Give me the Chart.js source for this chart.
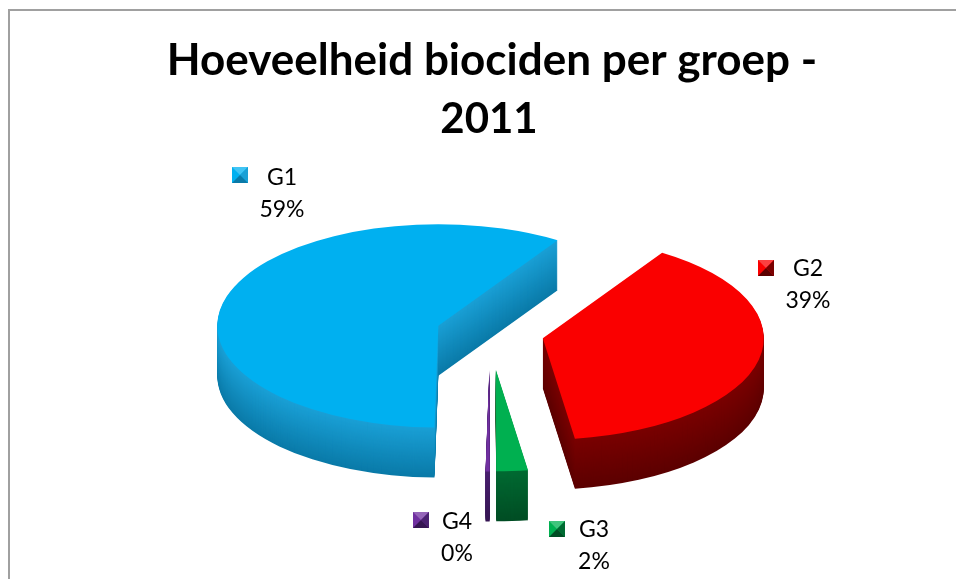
<!DOCTYPE html>
<html>
<head>
<meta charset="utf-8">
<script src="https://cdn.jsdelivr.net/npm/chart.js@4.4.0/dist/chart.umd.min.js"></script>
<style>
  html, body { margin: 0; padding: 0; background: #fff; }
  #wrap { width: 956px; height: 579px; position: relative; overflow: hidden; }
</style>
</head>
<body>
<div id="wrap"><canvas id="myChart" width="956" height="579"></canvas></div>
<script>
// data
var groepen = ['G1', 'G2', 'G3', 'G4'];
var aandeel = [58.8, 38.6, 2.3, 0.3];
var titel = ['Hoeveelheid biociden per groep -', '2011'];

// colours
var topKleur = ['#00b0f0', '#fa0000', '#00b050', '#7030a0'];
var zijKleurBoven = ['#1aa0d6', '#7a0000', '#006a32', '#4a2070'];
var zijKleurOnder = ['#0a7aa8', '#5c0000', '#004d24', '#351552'];

// 3d layout
var CX = 490, CY = 333;   // centre of the (unexploded) ellipse
var RADIUS = 221;         // horizontal radius in px
var TILT = 0.46;          // vertical squash
var DEPTH = 50;           // thickness of the pie
var explode = [54, 54, 80, 80];

// label spots: text centre x, baseline of first line, marker left/top
var labelPos = [
    {x: 282, y: 185, mx: 232, my: 167},
    {x: 808, y: 276, mx: 758, my: 260},
    {x: 594, y: 537, mx: 549, my: 521},
    {x: 457, y: 529, mx: 413, my: 512}
];

function mix(a, b, t) {
    var pa = parseInt(a.slice(1), 16), pb = parseInt(b.slice(1), 16);
    var r = Math.round(((pa >> 16) & 255) * (1 - t) + ((pb >> 16) & 255) * t);
    var g = Math.round(((pa >> 8) & 255) * (1 - t) + ((pb >> 8) & 255) * t);
    var bl = Math.round((pa & 255) * (1 - t) + (pb & 255) * t);
    return 'rgb(' + r + ',' + g + ',' + bl + ')';
}

// draws the pie squashed and exploded, with extruded sides
var pie3d = {
    id: 'pie3d',
    beforeDatasetsDraw: function(chart) {
        var ctx = chart.ctx;
        var arcs = chart.getDatasetMeta(0).data;
        var s = RADIUS / arcs[0].outerRadius;

        function place(arc, i, dy) {
            var mid = (arc.startAngle + arc.endAngle) / 2;
            var e = explode[i];
            ctx.translate(CX + Math.cos(mid) * e, CY + Math.sin(mid) * e * TILT + dy);
            ctx.scale(s, s * TILT);
            ctx.translate(-arc.x, -arc.y);
        }
        function drawWith(arc, colour) {
            var o = Object.create(arc.options);
            Object.defineProperty(o, 'backgroundColor', {value: colour});
            Object.defineProperty(o, 'borderWidth', {value: 0});
            Object.defineProperty(o, 'offset', {value: 0});
            var el = Object.create(arc);
            Object.defineProperty(el, 'options', {value: o, writable: true});
            arc.draw.call(el, ctx);
        }

        // sides first
        arcs.forEach(function(arc, i) {
            for (var d = DEPTH; d > 0; d--) {
                ctx.save();
                place(arc, i, d);
                drawWith(arc, mix(zijKleurBoven[i], zijKleurOnder[i], d / DEPTH));
                ctx.restore();
            }
        });
        // then the top faces
        arcs.forEach(function(arc, i) {
            ctx.save();
            place(arc, i, 0);
            drawWith(arc, topKleur[i]);
            ctx.restore();
        });
        return false;
    },
    afterDraw: function(chart) {
        var ctx = chart.ctx;
        var total = aandeel.reduce(function(a, b) { return a + b; }, 0);

        // frame
        ctx.save();
        ctx.strokeStyle = '#a0a0a0';
        ctx.lineWidth = 2;
        ctx.strokeRect(9, 10, 1000, 1000);

        // title
        ctx.fillStyle = '#000';
        ctx.textAlign = 'center';
        ctx.textBaseline = 'alphabetic';
        ctx.font = 'bold 44px Lato';
        ctx.fillText(titel[0], 492, 75);
        ctx.font = 'bold 42px Lato';
        ctx.fillText(titel[1], 489, 133);

        // labels
        ctx.font = '23px Lato';
        groepen.forEach(function(g, i) {
            var p = labelPos[i];
            var pct = Math.round(aandeel[i] / total * 100) + '%';
            ctx.fillStyle = '#000';
            ctx.fillText(g, p.x, p.y);
            ctx.fillText(pct, p.x, p.y + 32);

            // bevelled marker
            var x = p.mx, y = p.my, w = 16;
            var cxm = x + w / 2, cym = y + w / 2;
            ctx.fillStyle = topKleur[i];
            ctx.fillRect(x, y, w, w);
            ctx.fillStyle = mix(topKleur[i], '#ffffff', 0.25);
            ctx.beginPath(); ctx.moveTo(x, y); ctx.lineTo(x + w, y); ctx.lineTo(cxm, cym); ctx.closePath(); ctx.fill();
            ctx.fillStyle = zijKleurBoven[i];
            ctx.beginPath(); ctx.moveTo(x + w, y); ctx.lineTo(x + w, y + w); ctx.lineTo(cxm, cym); ctx.closePath(); ctx.fill();
            ctx.fillStyle = zijKleurOnder[i];
            ctx.beginPath(); ctx.moveTo(x, y + w); ctx.lineTo(x + w, y + w); ctx.lineTo(cxm, cym); ctx.closePath(); ctx.fill();
        });
        ctx.restore();
    }
};

var myChart = new Chart(document.getElementById('myChart').getContext('2d'), {
    type: 'pie',
    data: {
        labels: groepen,
        datasets: [{
            data: aandeel,
            backgroundColor: topKleur,
            borderWidth: 0
        }]
    },
    options: {
        responsive: false,
        animation: false,
        rotation: 181,
        layout: { padding: 40 },
        plugins: {
            legend: { display: false },
            tooltip: { enabled: false },
            title: { display: false }
        }
    },
    plugins: [pie3d]
});
</script>
</body>
</html>
